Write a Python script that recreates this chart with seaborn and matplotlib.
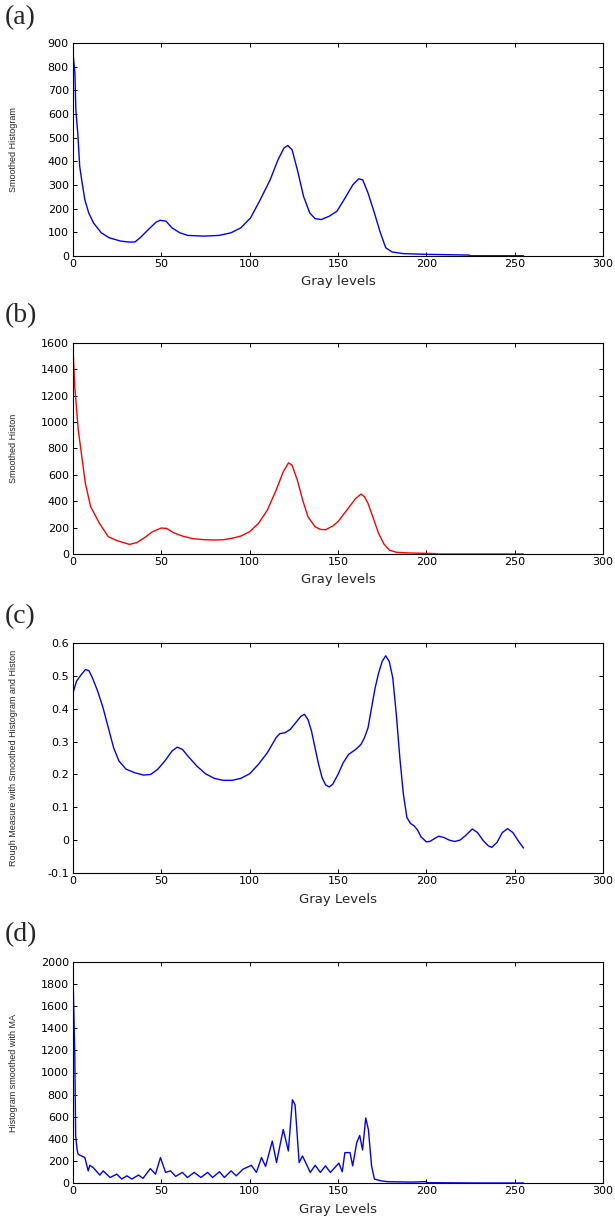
import matplotlib
matplotlib.use("Agg")
import matplotlib.pyplot as plt
import seaborn as sns
import pandas as pd

# panel (a): smoothed histogram
a_x = [0, 1.1, 1.6, 2.7, 3.8, 4.9, 6.7, 8.9, 11.6, 16, 20.5, 27, 31.6, 35, 38, 42.7, 47, 49.4,
       52.7, 56, 60.5, 65, 74, 82.7, 89.4, 95, 100.5, 106, 111.6, 116, 119.4, 121.6, 124, 127,
       130.5, 134, 137, 140.5, 145, 149.4, 154, 158.4, 161.7, 164, 167, 170.6, 174, 177, 180.6,
       187, 200.6, 224, 225, 240, 255]
a_y = [857, 771, 617, 519, 378, 322, 238, 182, 140, 98, 77, 63, 59, 59, 77, 112, 143, 151,
       147, 119, 98, 87, 84, 87, 98, 119, 161, 238, 322, 406, 456, 467, 449, 364,
       252, 182, 158, 154, 168, 189, 245, 301, 326, 322, 266, 182, 98, 35, 17,
       10, 7, 4, 1, 1, 1]

# panel (b): smoothed histon
b_x = [0, 1, 3, 5, 7, 10, 15, 20, 25, 32, 36, 40, 45, 50, 53, 57, 62, 68, 75, 80, 85, 90, 95,
       100, 105, 110, 115, 119, 122, 124, 127, 130, 133, 137, 140, 143, 147, 150, 155, 160, 163,
       165, 167, 170, 173, 176, 179, 183, 190, 200, 205, 207, 230, 255]
b_y = [1560, 1267, 939, 737, 535, 358, 232, 131, 101, 73, 86, 119, 169, 197, 194, 161, 136,
       116, 108, 106, 108, 119, 136, 169, 232, 333, 485, 623, 691, 674, 560, 409, 283, 207,
       187, 184, 212, 245, 333, 421, 454, 434, 384, 270, 156, 76, 30, 13, 8, 5, 3, 0, 0, 0]

# panel (c): rough measure
c_x = [0, 2, 4, 7, 9, 11, 14, 17, 20, 23, 26, 30, 35, 40, 44, 48, 52, 56, 59, 62, 65, 70, 75,
       80, 85, 90, 95, 100, 105, 110, 115, 117, 120, 123, 126, 129, 131, 133, 135, 137, 139,
       141, 143, 145, 147, 150, 153, 156, 160, 163, 165, 167, 169, 171, 173, 175, 177, 179,
       181, 183, 185, 187, 189, 191, 193, 195, 197, 200, 202, 205, 207, 210, 213, 216, 219,
       222, 226, 229, 232, 235, 237, 240, 243, 246, 249, 252, 255]
c_y = [0.448, 0.484, 0.499, 0.519, 0.516, 0.494, 0.453, 0.403, 0.342, 0.281, 0.241, 0.216,
       0.205, 0.198, 0.200, 0.216, 0.241, 0.271, 0.283, 0.276, 0.256, 0.226, 0.202, 0.188,
       0.182, 0.182, 0.188, 0.202, 0.231, 0.266, 0.312, 0.324, 0.327, 0.337, 0.357, 0.377,
       0.383, 0.367, 0.332, 0.281, 0.231, 0.190, 0.168, 0.162, 0.170, 0.200, 0.236, 0.261,
       0.276, 0.291, 0.312, 0.342, 0.403, 0.463, 0.509, 0.544, 0.561, 0.544, 0.494, 0.383,
       0.251, 0.140, 0.069, 0.051, 0.044, 0.031, 0.010, -0.005, -0.004, 0.006, 0.012, 0.008,
       0.000, -0.004, 0.000, 0.013, 0.034, 0.023, 0.000, -0.017, -0.022, -0.007, 0.023,
       0.035, 0.023, -0.002, -0.024]

# panel (d): histogram smoothed with moving average
d_x = [0, 1, 1.5, 2.3, 2.9, 6.7, 8.6, 9.5, 11.4, 15.2, 17.1, 21, 24.8, 27.6, 30.5, 33.3, 37.1,
       39.6, 43.8, 46.7, 49.5, 52.4, 55.2, 58.1, 61.9, 64.8, 68.6, 72.4, 76.2, 79, 82.9, 85.7,
       89.5, 92.4, 96.2, 101, 103.8, 106.7, 109, 112.8, 115.2, 119, 121.9, 124.2, 125.7, 128,
       129.9, 134.3, 137.1, 140, 142.9, 145.7, 150.5, 152.4, 153.9, 156.8, 158.3, 160.6, 162.3,
       163.9, 165.7, 167.2, 169, 170.6, 174, 178, 191.7, 199.5, 200.6, 230, 255]
d_y = [1875, 1172, 425, 305, 260, 230, 110, 160, 140, 72, 110, 50, 80, 36, 65, 36, 72, 42,
       130, 80, 230, 96, 110, 60, 96, 50, 96, 50, 96, 50, 102, 50, 110, 65, 125, 160, 96,
       230, 150, 380, 185, 485, 290, 753, 709, 185, 245, 96, 160, 96, 155, 96, 180, 102,
       275, 275, 155, 365, 430, 299, 589, 484, 155, 36, 21, 12, 8, 12, 3, 0, 0]

panels = [
    ("(a)", a_x, a_y, "#0000ff", "Smoothed Histogram", "Gray levels", (0, 900), list(range(0, 901, 100))),
    ("(b)", b_x, b_y, "#ff0000", "Smoothed Histon", "Gray levels", (0, 1600), list(range(0, 1601, 200))),
    ("(c)", c_x, c_y, "#0000ff", "Rough Measure with Smoothed Histogram and Histon", "Gray Levels",
     (-0.1, 0.6), [-0.1, 0, 0.1, 0.2, 0.3, 0.4, 0.5, 0.6]),
    ("(d)", d_x, d_y, "#0000ff", "Histogram smoothed with MA", "Gray Levels", (0, 2000), list(range(0, 2001, 200))),
]

# pixel layout (top, bottom) of each axes and y of panel letter
H, W = 1217, 615
boxes = [(43, 256, 18), (343, 554, 316), (643, 873, 617), (962, 1183, 935)]
left, right = 73, 603

sns.set_theme(style="ticks")
plt.rcParams.update({
    "font.family": ["DejaVu Sans"],
    "axes.edgecolor": "black",
    "axes.linewidth": 0.8,
    "xtick.direction": "in",
    "ytick.direction": "in",
    "xtick.top": True,
    "ytick.right": True,
    "xtick.major.size": 3,
    "ytick.major.size": 3,
    "xtick.major.width": 0.7,
    "ytick.major.width": 0.7,
    "xtick.labelsize": 8,
    "ytick.labelsize": 8,
})

fig = plt.figure(figsize=(W / 100, H / 100), dpi=100)

for (letter, xs, ys, color, ylab, xlab, ylim, yticks), (top, bot, ly) in zip(panels, boxes):
    ax = fig.add_axes([left / W, 1 - bot / H, (right - left) / W, (bot - top) / H])
    df = pd.DataFrame({"gray": xs, "value": ys})
    sns.lineplot(data=df, x="gray", y="value", color=color, linewidth=1.0, ax=ax)
    ax.set_xlim(0, 300)
    ax.set_ylim(*ylim)
    ax.set_xticks(range(0, 301, 50))
    ax.set_yticks(yticks)
    ax.set_yticklabels([("%g" % t) for t in yticks])
    ax.tick_params(axis="x", pad=2)
    ax.tick_params(axis="y", pad=3)
    ax.tick_params(axis="both", which="both", top=True, right=True, colors="black")
    ax.set_xlabel(xlab, fontsize=9.5)
    ax.xaxis.label.set_va("center")
    ax.set_ylabel(ylab, fontsize=6.5, family=["Liberation Sans", "DejaVu Sans"])
    ax.xaxis.set_label_coords(0.5, -26 / (bot - top))
    ax.yaxis.set_label_coords(-(73 - 18) / (right - left), 0.5)
    for s in ax.spines.values():
        s.set_visible(True)
    fig.text(0.008, 1 - ly / H, letter, fontsize=20, family=["Liberation Serif"], va="center", ha="left")

fig.savefig("out.png", dpi=100, facecolor="white")
